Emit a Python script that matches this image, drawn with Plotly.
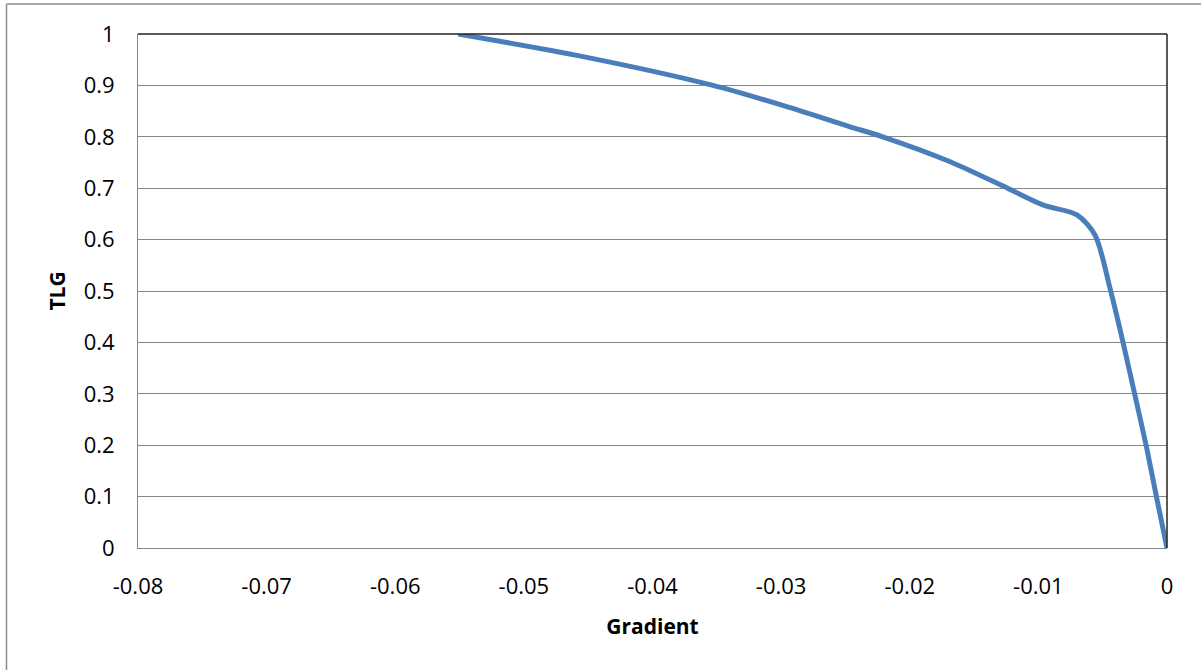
import plotly.graph_objects as go

# Data
gradient = [-0.0551, -0.0454, -0.0353, -0.0300, -0.0247, -0.0221, -0.0169, -0.0124,
            -0.0096, -0.0070, -0.0056, -0.0044, -0.0034, -0.0025, -0.0016, -0.0008, 0.0]
tlg = [1.000, 0.956, 0.900, 0.862, 0.820, 0.800, 0.752, 0.700,
       0.667, 0.648, 0.609, 0.502, 0.398, 0.298, 0.197, 0.097, 0.0]

x_ticks = [-0.08, -0.07, -0.06, -0.05, -0.04, -0.03, -0.02, -0.01, 0]
x_labels = ["-0.08", "-0.07", "-0.06", "-0.05", "-0.04", "-0.03", "-0.02", "-0.01", "0"]
y_ticks = [0, 0.1, 0.2, 0.3, 0.4, 0.5, 0.6, 0.7, 0.8, 0.9, 1]
y_labels = ["0", "0.1", "0.2", "0.3", "0.4", "0.5", "0.6", "0.7", "0.8", "0.9", "1"]

FONT = "Open Sans"
W, H = 1201, 670
L, R, T, B = 138, 34, 34, 122
PW, PH = W - L - R, H - T - B

fig = go.Figure()
fig.add_trace(go.Scatter(
    x=gradient, y=tlg, mode="lines",
    line=dict(color="#4A7EBB", width=5, shape="spline", smoothing=0.8),
    showlegend=False, hoverinfo="x+y",
))

fig.update_layout(
    width=W, height=H,
    margin=dict(l=L, r=R, t=T, b=B),
    paper_bgcolor="white", plot_bgcolor="white",
    font=dict(family=FONT, size=22, color="black"),
    xaxis=dict(
        range=[-0.08, 0], tickvals=x_ticks, ticktext=x_labels,
        showgrid=False, zeroline=False,
        showline=True, linecolor="#868686", linewidth=1,
        ticks="", ticklabelstandoff=19,
        tickfont=dict(family=FONT, size=22),
        title=dict(text="<b>Gradient</b>", font=dict(family=FONT, size=21), standoff=19),
    ),
    yaxis=dict(
        range=[0, 1], tickvals=y_ticks, ticktext=y_labels,
        showgrid=True, gridcolor="#868686", gridwidth=1.3,
        zeroline=False,
        showline=True, linecolor="#868686", linewidth=1,
        ticks="", ticklabelstandoff=18,
        tickfont=dict(family=FONT, size=22),
        title=dict(text="<b>TLG</b>", font=dict(family=FONT, size=21), standoff=12),
    ),
)

# plot-area border (dark top/right)
fig.add_shape(type="line", xref="paper", yref="paper", x0=0, x1=1, y0=1, y1=1,
              line=dict(color="#222222", width=1.5))
fig.add_shape(type="line", xref="paper", yref="paper", x0=1, x1=1, y0=0, y1=1,
              line=dict(color="#222222", width=1.5))

# outer chart border (partially visible: left & top)
def px_to_paper_x(px):
    return (px - L) / PW

def py_to_paper_y(py):
    return (H - B - py) / PH

fig.add_shape(type="line", xref="paper", yref="paper",
              x0=px_to_paper_x(6.5), x1=px_to_paper_x(6.5),
              y0=py_to_paper_y(4), y1=py_to_paper_y(H + 5),
              line=dict(color="#8c8c8c", width=1.5), layer="above")
fig.add_shape(type="line", xref="paper", yref="paper",
              x0=px_to_paper_x(6.5), x1=px_to_paper_x(W + 5),
              y0=py_to_paper_y(4), y1=py_to_paper_y(4),
              line=dict(color="#8c8c8c", width=1.5), layer="above")

fig.write_html(
    "out.html",
    config={"displayModeBar": False},
    post_script="document.body.style.margin='0';document.body.style.overflow='hidden';",
)
